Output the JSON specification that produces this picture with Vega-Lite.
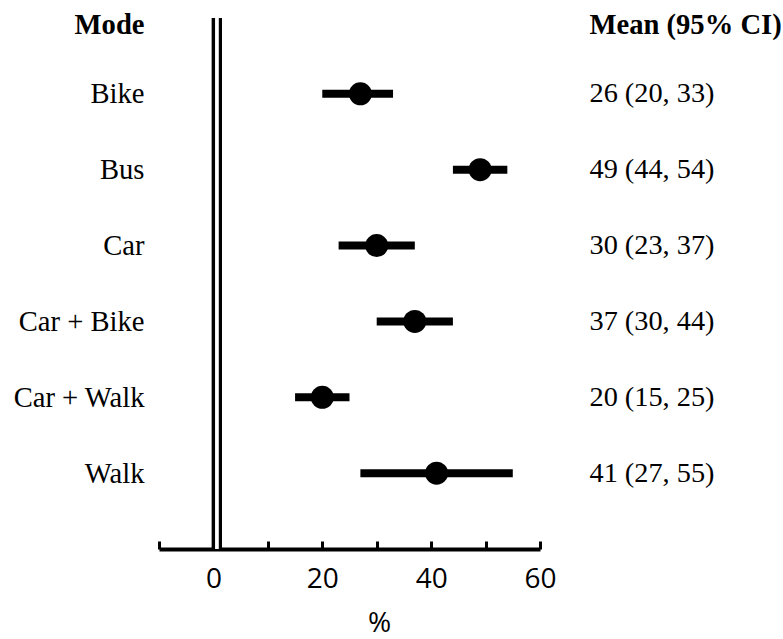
{
  "$schema": "https://vega.github.io/schema/vega-lite/v6.json",
  "width": 381,
  "height": 531,
  "autosize": "none",
  "padding": {"left": 159, "top": 18, "right": 243, "bottom": 90},
  "background": "white",
  "config": {"view": {"stroke": null}, "axis": {"grid": false}},
  "data": {"values": [
    {"mode": "Bike", "mean": 27, "lo": 20, "hi": 33, "ci": "26 (20, 33)"},
    {"mode": "Bus", "mean": 49, "lo": 44, "hi": 54, "ci": "49 (44, 54)"},
    {"mode": "Car", "mean": 30, "lo": 23, "hi": 37, "ci": "30 (23, 37)"},
    {"mode": "Car + Bike", "mean": 37, "lo": 30, "hi": 44, "ci": "37 (30, 44)"},
    {"mode": "Car + Walk", "mean": 20, "lo": 15, "hi": 25, "ci": "20 (15, 25)"},
    {"mode": "Walk", "mean": 41, "lo": 27, "hi": 55, "ci": "41 (27, 55)"}
  ]},
  "resolve": {"scale": {"y": "independent"}, "axis": {"y": "independent"}},
  "layer": [
    {
      "encoding": {
        "x": {
          "type": "quantitative",
          "scale": {"domain": [-10, 60], "nice": false, "zero": false},
          "axis": {
            "values": [-10, 0, 10, 20, 30, 40, 50, 60],
            "labelExpr": "datum.value % 20 == 0 ? datum.label : ''",
            "domainColor": "black",
            "domainWidth": 4,
            "tickColor": "black",
            "tickWidth": 3,
            "tickSize": -8,
            "labelFont": "Open Sans",
            "labelFontSize": 28,
            "labelColor": "black",
            "labelPadding": 24,
            "labelFlush": false,
            "title": "%",
            "titleFont": "Open Sans",
            "titleFontSize": 28,
            "titleFontWeight": "normal",
            "titleColor": "black",
            "titlePadding": 16,
            "titleX": 220,
            "titleAlign": "center"
          }
        },
        "y": {
          "field": "mode",
          "type": "nominal",
          "sort": null,
          "scale": {"type": "point", "padding": 1},
          "axis": {
            "orient": "left",
            "domain": false,
            "ticks": false,
            "tickSize": 0,
            "offset": 15,
            "labelPadding": 0,
            "labelFont": "Liberation Serif",
            "labelFontSize": 28.6,
            "labelColor": "black",
            "title": "Mode",
            "titleFont": "Liberation Serif",
            "titleFontSize": 28.6,
            "titleFontWeight": "bold",
            "titleColor": "black",
            "titleAngle": 0,
            "titleAlign": "right",
            "titleBaseline": "alphabetic",
            "titleX": 0,
            "titleY": 15
          }
        }
      },
      "layer": [
        {
          "mark": {"type": "rule", "color": "black", "strokeWidth": 8, "strokeCap": "butt"},
          "encoding": {"x": {"field": "lo"}, "x2": {"field": "hi"}}
        },
        {
          "mark": {"type": "point", "shape": "circle", "filled": true, "color": "black", "opacity": 1, "size": 530},
          "encoding": {"x": {"field": "mean"}}
        },
        {
          "mark": {"type": "rule", "color": "black", "strokeWidth": 10, "xOffset": 3.5},
          "encoding": {"x": {"datum": 0}, "y": null}
        },
        {
          "mark": {"type": "rule", "color": "white", "strokeWidth": 2.6, "xOffset": 3.5},
          "encoding": {"x": {"datum": 0}, "y": null}
        }
      ]
    },
    {
      "mark": {"type": "point", "opacity": 0},
      "encoding": {
        "y": {
          "field": "ci",
          "type": "nominal",
          "sort": null,
          "scale": {"type": "point", "padding": 1},
          "axis": {
            "orient": "right",
            "domain": false,
            "ticks": false,
            "tickSize": 0,
            "offset": 49,
            "labelPadding": 0,
            "labelAlign": "left",
            "labelFont": "Liberation Serif",
            "labelFontSize": 28.3,
            "labelColor": "black",
            "title": "Mean (95% CI)",
            "titleFont": "Liberation Serif",
            "titleFontSize": 28.6,
            "titleFontWeight": "bold",
            "titleColor": "black",
            "titleAngle": 0,
            "titleAlign": "left",
            "titleBaseline": "alphabetic",
            "titleX": 0,
            "titleY": 15
          }
        }
      }
    }
  ]
}
